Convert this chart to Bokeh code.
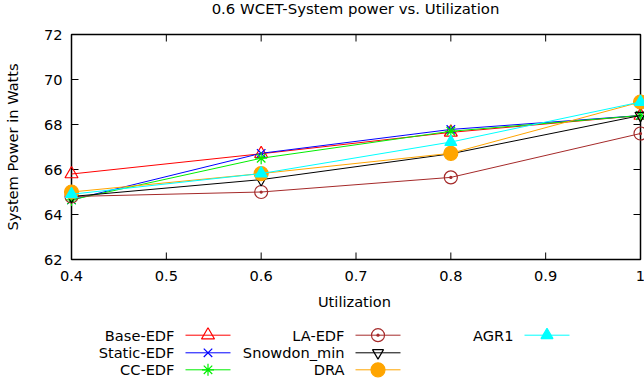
from bokeh.plotting import figure
from bokeh.models import Range1d, FixedTicker, ColumnDataSource
from bokeh.layouts import column
from bokeh.core.properties import value
from bokeh.embed import file_html
from bokeh.resources import INLINE

# ---- data ----
utilization = [0.4, 0.6, 0.8, 1.0]
base_edf = [65.8, 66.7, 67.65, 68.4]
static_edf = [64.65, 66.72, 67.78, 68.4]
cc_edf = [64.65, 66.5, 67.7, 68.4]
la_edf = [64.8, 65.0, 65.65, 67.6]
snowdon_min = [64.8, 65.55, 66.7, 68.4]
dra = [65.0, 65.82, 66.72, 69.0]
agr1 = [64.9, 65.82, 67.22, 69.0]

series_names = ["Base-EDF", "Static-EDF", "CC-EDF", "LA-EDF", "Snowdon_min", "DRA", "AGR1"]
series_values = [base_edf, static_edf, cc_edf, la_edf, snowdon_min, dra, agr1]

title_text = "0.6 WCET-System power vs. Utilization"
x_label = "Utilization"
y_label = "System Power in Watts"
x_ticks = [0.4, 0.5, 0.6, 0.7, 0.8, 0.9, 1.0]
x_tick_labels = ["0.4", "0.5", "0.6", "0.7", "0.8", "0.9", "1"]
y_ticks = [62, 64, 66, 68, 70, 72]
y_tick_labels = ["62", "64", "66", "68", "70", "72"]
x_lo, x_hi = 0.4, 1.0
y_lo, y_hi = 62, 72

# ---- styles ----
colors = ["#ff0000", "#0000ff", "#00ee00", "#a52a2a", "#000000", "#ffa500", "#00ffff"]
markers = ["triangle", "x", "asterisk", "circle_dot", "inverted_triangle", "circle", "triangle"]
fills = [None, None, None, None, None, "#ffa500", "#00ffff"]
sizes = [13, 12, 12, 13, 11, 14, 12]

FONT = "DejaVu Sans"
FS = "14.6px"
TITLE_FS = "14.9px"

# layout (pixels)
BL = 62                    # left border
FW, FH = 582, 241          # frame size
PAD_L, PAD_R, PAD_V = 8, 5, 8   # frame padding around the data box
TICK = 7
HEAD_H = 26
LEG_H = 61


def bare(height):
    f = figure(frame_width=FW, frame_height=height, output_backend="svg",
               toolbar_location=None,
               x_range=Range1d(BL, BL + FW), y_range=Range1d(height, 0),
               x_axis_location=None, y_axis_location=None,
               min_border_left=BL, min_border_right=0, min_border_top=0, min_border_bottom=0)
    f.grid.visible = False
    f.outline_line_color = None
    f.background_fill_color = "white"
    f.border_fill_color = "white"
    return f


# ---- title row ----
head = bare(HEAD_H)
head.text(x=[354], y=[8.5], text=[title_text], text_align="center", text_baseline="middle",
          text_font=value(FONT), text_font_size=TITLE_FS, text_color="black")

# ---- main plot ----
x_per_px = (x_hi - x_lo) / (FW - PAD_L - PAD_R)
y_per_px = (y_hi - y_lo) / (FH - 2 * PAD_V)

p = figure(frame_width=FW, frame_height=FH, output_backend="svg", toolbar_location=None,
           x_range=Range1d(x_lo - PAD_L * x_per_px, x_hi + PAD_R * x_per_px),
           y_range=Range1d(y_lo - PAD_V * y_per_px, y_hi + PAD_V * y_per_px),
           min_border_left=BL, min_border_right=0, min_border_top=0, min_border_bottom=53)
p.grid.visible = False
p.outline_line_color = None
p.background_fill_color = "white"
p.border_fill_color = "white"

xa = p.xaxis[0]
xa.ticker = FixedTicker(ticks=x_ticks)
xa.major_label_overrides = {t: l for t, l in zip(x_ticks, x_tick_labels)}
xa.axis_label = x_label
ya = p.yaxis[0]
ya.ticker = FixedTicker(ticks=y_ticks)
ya.major_label_overrides = {t: l for t, l in zip(y_ticks, y_tick_labels)}
ya.axis_label = y_label

for ax in (xa, ya):
    ax.axis_line_color = None
    ax.major_tick_line_color = None
    ax.minor_tick_line_color = None
    ax.major_tick_in = 0
    ax.major_tick_out = 0
    ax.minor_tick_in = 0
    ax.minor_tick_out = 0
    ax.major_label_text_font = FONT
    ax.major_label_text_font_size = FS
    ax.major_label_text_color = "black"
    ax.axis_label_text_font = FONT
    ax.axis_label_text_font_size = FS
    ax.axis_label_text_font_style = "normal"
    ax.axis_label_text_color = "black"
xa.major_label_standoff = 3
xa.axis_label_standoff = 9
ya.major_label_standoff = 1
ya.axis_label_standoff = 20

# box and inward ticks
p.quad(left=[x_lo], right=[x_hi], bottom=[y_lo], top=[y_hi],
       fill_color=None, line_color="black", line_width=1.5)
tx = x_ticks
p.segment(x0=tx, y0=[y_lo] * len(tx), x1=tx, y1=[y_lo + TICK * y_per_px] * len(tx),
          line_color="black", line_width=1)
p.segment(x0=tx, y0=[y_hi] * len(tx), x1=tx, y1=[y_hi - TICK * y_per_px] * len(tx),
          line_color="black", line_width=1)
ty = y_ticks
p.segment(x0=[x_lo] * len(ty), y0=ty, x1=[x_lo + TICK * x_per_px] * len(ty), y1=ty,
          line_color="black", line_width=1)
p.segment(x0=[x_hi] * len(ty), y0=ty, x1=[x_hi - TICK * x_per_px] * len(ty), y1=ty,
          line_color="black", line_width=1)

for name, vals, c, m, f, s in zip(series_names, series_values, colors, markers, fills, sizes):
    src = ColumnDataSource(dict(x=utilization, y=vals))
    p.line("x", "y", source=src, line_color=c, line_width=1)
    p.scatter("x", "y", source=src, marker=m, size=s, line_color=c,
              fill_color=f, line_width=1.2)

# ---- legend (label on the left, sample on the right, three columns) ----
leg = bare(LEG_H)
col_x = [173, 343, 512]
row_y = [14.7, 32.3, 49.3]
per_col = 3
for i, (name, c, m, f, s) in enumerate(zip(series_names, colors, markers, fills, sizes)):
    cx = col_x[i // per_col]
    cy = row_y[i % per_col]
    leg.text(x=[cx], y=[cy], text=[name], text_align="right", text_baseline="middle",
             text_font=value(FONT), text_font_size=FS, text_color="black")
    leg.line(x=[cx + 11, cx + 56], y=[cy, cy], line_color=c, line_width=1)
    leg.scatter(x=[cx + 33.5], y=[cy], marker=m, size=s, line_color=c,
                fill_color=f, line_width=1.2)

layout = column(head, p, leg, spacing=0)
open("out.html", "w").write(file_html(layout, INLINE))
